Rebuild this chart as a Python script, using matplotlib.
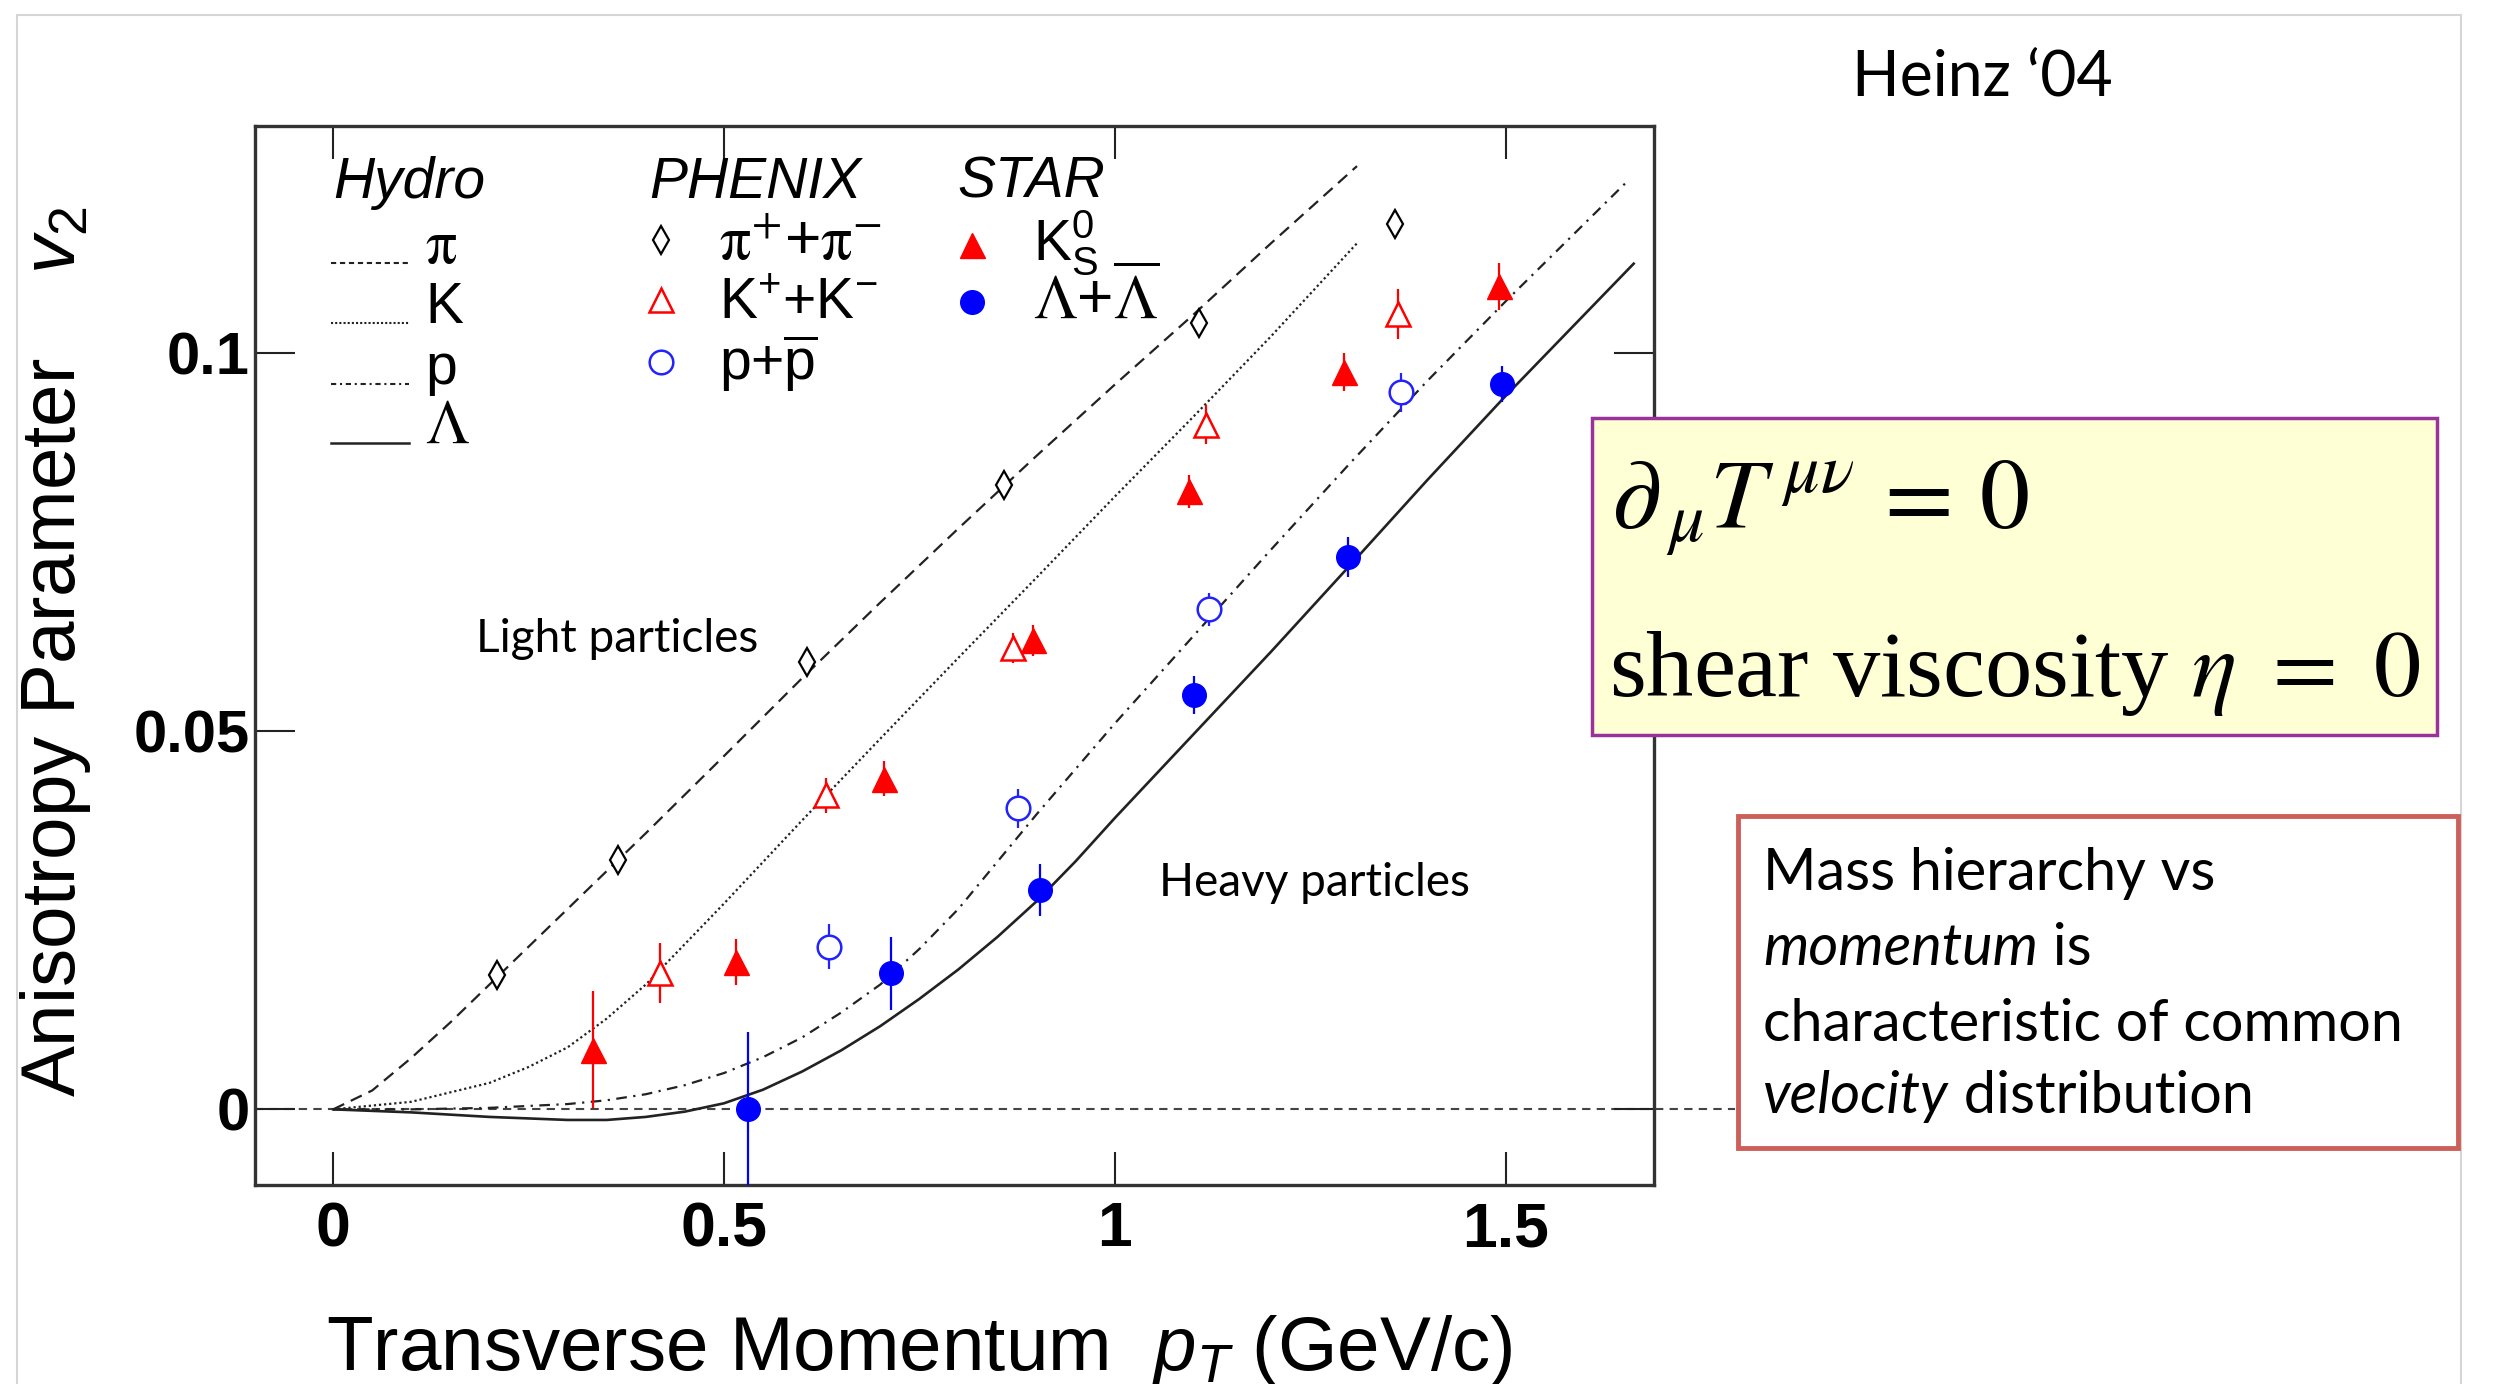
import matplotlib
matplotlib.use("Agg")
import matplotlib.pyplot as plt
from matplotlib.patches import Rectangle

# hydro curves
hydro_pi_x = [0.0, 0.05, 0.1, 0.15, 0.2, 0.3, 0.4, 0.5, 0.6, 0.7, 0.8, 0.9, 1.0, 1.1, 1.2, 1.31]
hydro_pi_y = [0.0, 0.0025, 0.0068, 0.0115, 0.0165, 0.0265, 0.0365, 0.0467, 0.0570, 0.0670,
              0.0768, 0.0864, 0.0958, 0.1050, 0.1145, 0.1247]
hydro_k_x = [0.0, 0.1, 0.2, 0.25, 0.3, 0.35, 0.4, 0.5, 0.6, 0.7, 0.8, 0.9, 1.0, 1.1, 1.2, 1.31]
hydro_k_y = [0.0, 0.0010, 0.0035, 0.0056, 0.0082, 0.0120, 0.0165, 0.0272, 0.0382, 0.0490,
             0.0597, 0.0703, 0.0810, 0.0915, 0.1022, 0.1145]
hydro_p_x = [0.0, 0.1, 0.2, 0.3, 0.35, 0.4, 0.45, 0.5, 0.55, 0.6, 0.65, 0.7, 0.75, 0.8, 0.9,
             1.0, 1.1, 1.2, 1.3, 1.4, 1.5, 1.655]
hydro_p_y = [0.0, 0.0, 0.0002, 0.0007, 0.0012, 0.0020, 0.0032, 0.0048, 0.0069, 0.0095, 0.0128,
             0.0165, 0.0212, 0.0265, 0.0390, 0.0510, 0.0625, 0.0740, 0.0853, 0.0963, 0.1068, 0.1226]
hydro_lam_x = [0.0, 0.1, 0.2, 0.25, 0.3, 0.35, 0.4, 0.45, 0.5, 0.55, 0.6, 0.65, 0.7, 0.75, 0.8,
               0.85, 0.9, 0.95, 1.0, 1.1, 1.2, 1.3, 1.4, 1.5, 1.664]
hydro_lam_y = [0.0, -0.0004, -0.0010, -0.0012, -0.0014, -0.0014, -0.0010, -0.0003, 0.0008, 0.0026,
               0.0050, 0.0078, 0.0110, 0.0146, 0.0185, 0.0228, 0.0275, 0.0328, 0.0385, 0.0495,
               0.0605, 0.0718, 0.0832, 0.0943, 0.1118]

# PHENIX data
phenix_pi_x = [0.209, 0.364, 0.606, 0.858, 1.108, 1.359]
phenix_pi_y = [0.0177, 0.0330, 0.0592, 0.0826, 0.1039, 0.1170]
phenix_k_x = [0.418, 0.630, 0.870, 1.117, 1.363]
phenix_k_y = [0.0180, 0.0415, 0.0610, 0.0905, 0.1052]
phenix_k_err = [0.0040, 0.0023, 0.0020, 0.0026, 0.0033]
phenix_p_x = [0.634, 0.876, 1.120, 1.366]
phenix_p_y = [0.0215, 0.0398, 0.0661, 0.0948]
phenix_p_err = [0.0030, 0.0026, 0.0022, 0.0026]

# STAR data
star_k0_x = [0.332, 0.516, 0.705, 0.896, 1.0955, 1.293, 1.492]
star_k0_y = [0.0079, 0.0195, 0.0437, 0.0620, 0.0817, 0.0975, 0.1088]
star_k0_err = [0.0077, 0.0030, 0.0023, 0.0020, 0.0022, 0.0025, 0.0031]
star_lam_x = [0.531, 0.714, 0.904, 1.102, 1.298, 1.496]
star_lam_y = [0.0, 0.0180, 0.0290, 0.0548, 0.0730, 0.0959]
star_lam_err = [0.0102, 0.0048, 0.0035, 0.0025, 0.0026, 0.0024]

x_ticks = [0, 0.5, 1, 1.5]
x_tick_labels = ["0", "0.5", "1", "1.5"]
y_ticks = [0, 0.05, 0.1]
y_tick_labels = ["0", "0.05", "0.1"]

plt.rcParams['font.family'] = ['Liberation Sans', 'DejaVu Sans']
plt.rcParams['mathtext.fontset'] = 'custom'
plt.rcParams['mathtext.rm'] = 'Liberation Sans'
plt.rcParams['mathtext.it'] = 'Liberation Sans:italic'
plt.rcParams['mathtext.bf'] = 'Liberation Sans:bold'

W, H = 2493, 1384
fig = plt.figure(figsize=(W / 100, H / 100), dpi=100)
ax = fig.add_axes([255 / W, 1 - 1185 / H, 1399 / W, 1059 / H])

line_col = '#222222'
ax.plot(hydro_pi_x, hydro_pi_y, color=line_col, lw=1.6, dashes=(5.5, 3.3), zorder=2)
ax.plot(hydro_k_x, hydro_k_y, color=line_col, lw=1.6, dashes=(1.0, 1.3), zorder=2)
ax.plot(hydro_p_x, hydro_p_y, color=line_col, lw=1.6, dashes=(4.8, 2.9, 1.0, 2.9), zorder=2)
ax.plot(hydro_lam_x, hydro_lam_y, color=line_col, lw=1.9, zorder=2)

# zero line runs out to the text box
ax.axhline(0, xmin=0, xmax=1.058, color='#444444', lw=1.5, dashes=(4, 3), clip_on=False, zorder=1)

# data points
ax.plot(phenix_pi_x, phenix_pi_y, 'd', ms=14, mfc='white', mec='black', mew=1.6, zorder=4)
ax.errorbar(phenix_k_x, phenix_k_y, yerr=phenix_k_err, fmt='^', ms=17, mfc='white', mec='red',
            mew=1.8, ecolor='red', elinewidth=1.6, capsize=0, zorder=4)
ax.errorbar(phenix_p_x, phenix_p_y, yerr=phenix_p_err, fmt='o', ms=17, mfc='white', mec='#2222ff',
            mew=1.8, ecolor='#2222ff', elinewidth=1.6, capsize=0, zorder=4)
ax.errorbar(star_k0_x, star_k0_y, yerr=star_k0_err, fmt='^', ms=18, mfc='red', mec='red',
            ecolor='red', elinewidth=1.6, capsize=0, zorder=4)
ax.errorbar(star_lam_x, star_lam_y, yerr=star_lam_err, fmt='o', ms=17, mfc='blue', mec='blue',
            ecolor='blue', elinewidth=1.6, capsize=0, zorder=4)

ax.set_xlim(-0.1, 1.69)
ax.set_ylim(-0.01, 0.13)
ax.set_xticks(x_ticks)
ax.set_xticklabels(x_tick_labels, fontsize=45, fontweight='bold')
ax.set_yticks(y_ticks)
ax.set_yticklabels(y_tick_labels, fontsize=43, fontweight='bold')
ax.tick_params(axis='x', direction='in', length=24, width=1.5, top=True, pad=11, color='#222222')
ax.tick_params(axis='y', direction='in', length=29, width=1.5, right=True, pad=4, color='#222222')
for s in ax.spines.values():
    s.set_linewidth(2.4)
    s.set_color('#333333')

# axis labels
ax.set_xlabel(r'Transverse Momentum  $p_T$ (GeV/c)', fontsize=55)
ax.xaxis.label.set_ha('left')
ax.xaxis.label.set_va('baseline')
ax.xaxis.set_label_coords(0.0508, -0.1747)
ax.set_ylabel(r'Anisotropy Parameter    $v_2$', fontsize=55)
ax.yaxis.label.set_rotation_mode('anchor')
ax.yaxis.label.set_ha('left')
ax.yaxis.label.set_va('baseline')
ax.yaxis.set_label_coords(-0.1287, 0.0831)

# legend drawn by hand, ROOT style
leg_fs = 41
ax.text(0.0, 0.1225, 'Hydro', style='italic', fontsize=leg_fs, va='center')
ax.text(0.404, 0.1225, 'PHENIX', style='italic', fontsize=leg_fs, va='center')
ax.text(0.799, 0.1225, 'STAR', style='italic', fontsize=leg_fs, va='center')

ax.plot([-0.003, 0.097], [0.1119, 0.1119], color=line_col, lw=1.5, dashes=(2.5, 1.8))
ax.plot([-0.003, 0.097], [0.1040, 0.1040], color=line_col, lw=1.5, dashes=(1.0, 1.0))
ax.plot([-0.003, 0.097], [0.0959, 0.0959], color=line_col, lw=1.5, dashes=(2.5, 1.8, 1.0, 1.8))
ax.plot([-0.003, 0.097], [0.0881, 0.0881], color=line_col, lw=1.8)
ax.text(0.118, 0.1119, r'$\mathrm{\pi}$', fontsize=leg_fs + 4, math_fontfamily='stix', va='baseline')
ax.text(0.118, 0.1040, 'K', fontsize=leg_fs, va='baseline')
ax.text(0.118, 0.0959, 'p', fontsize=leg_fs, va='baseline')
ax.text(0.118, 0.0881, r'$\Lambda$', fontsize=leg_fs + 4, math_fontfamily='stix', va='baseline')

ax.plot([0.419], [0.1149], 'd', ms=14, mfc='white', mec='black', mew=1.6)
ax.plot([0.419], [0.1070], '^', ms=17, mfc='white', mec='red', mew=1.8)
ax.plot([0.419], [0.0988], 'o', ms=17, mfc='white', mec='#2222ff', mew=1.8)
ax.text(0.494, 0.1123, r'$\mathrm{\pi}^{+}$+$\mathrm{\pi}^{-}$', fontsize=leg_fs + 4,
        math_fontfamily='stix', va='baseline')
ax.text(0.494, 0.1046, r'K$^{+}$+K$^{-}$', fontsize=leg_fs, va='baseline')
ax.text(0.494, 0.0964, r'p+$\overline{\mathrm{p}}$', fontsize=leg_fs, va='baseline')

ax.plot([0.818], [0.1143], '^', ms=18, mfc='red', mec='red')
ax.plot([0.818], [0.1067], 'o', ms=17, mfc='blue', mec='blue')
ax.text(0.896, 0.1123, r'K$^{0}_{\mathrm{S}}$', fontsize=leg_fs, va='baseline')
ax.text(0.896, 0.1046, r'$\Lambda$+$\overline{\Lambda}$', fontsize=leg_fs + 4,
        math_fontfamily='stix', va='baseline')

ax.text(0.183, 0.0605, 'Light particles', family='Lato', fontsize=33, va='baseline')
ax.text(1.057, 0.0282, 'Heavy particles', family='Lato', fontsize=33, va='baseline')

# slide decorations
fig.add_artist(Rectangle((17 / W, -0.01), (2461 - 17) / W, 1.01 - 15 / H, transform=fig.transFigure,
                         fill=False, ec='#d6d6d6', lw=1.5, zorder=-2))
fig.text(1852 / W, 1 - 95 / H, 'Heinz \u201804', family='Lato', fontsize=45, va='baseline')

fig.add_artist(Rectangle((1592 / W, 1 - 735 / H), (2437 - 1592) / W, (735 - 418) / H,
                         transform=fig.transFigure, fc='#ffffd6', ec='#993399', lw=2.5, zorder=5))
fig.text(1611 / W, 1 - 529 / H, r'$\partial_{\,\mu} T^{\,\mu\nu}\,=\,0$', fontsize=72,
         math_fontfamily='stix', va='baseline', zorder=6)
fig.text(1609 / W, 1 - 696 / H, r'shear viscosity $\eta\ =\ 0$', family='Liberation Serif',
         fontsize=68, math_fontfamily='stix', va='baseline', zorder=6)

fig.add_artist(Rectangle((1738 / W, 1 - 1148 / H), (2458 - 1738) / W, (1148 - 816) / H,
                         transform=fig.transFigure, fc='white', ec='#cc5f5a', lw=3.5, zorder=5))
box_fs = 41.5
bx = 1763 / W
fig.text(bx, 1 - 890 / H, 'Mass hierarchy vs', family='Lato', fontsize=box_fs, va='baseline', zorder=6)
t_mom = fig.text(bx, 1 - 965 / H, 'momentum', family='Lato', style='italic', fontsize=box_fs,
                 va='baseline', zorder=6)
fig.text(bx, 1 - 1041 / H, 'characteristic of common', family='Lato', fontsize=box_fs,
         va='baseline', zorder=6)
t_vel = fig.text(bx, 1 - 1113 / H, 'velocity', family='Lato', style='italic', fontsize=box_fs,
                 va='baseline', zorder=6)

renderer = fig.canvas.get_renderer()
x_mom = t_mom.get_window_extent(renderer=renderer).x1 / fig.bbox.width
x_vel = t_vel.get_window_extent(renderer=renderer).x1 / fig.bbox.width
fig.text(x_mom, 1 - 965 / H, ' is', family='Lato', fontsize=box_fs, va='baseline', zorder=6)
fig.text(x_vel, 1 - 1113 / H, ' distribution', family='Lato', fontsize=box_fs, va='baseline', zorder=6)

fig.savefig('out.png', dpi=100)
